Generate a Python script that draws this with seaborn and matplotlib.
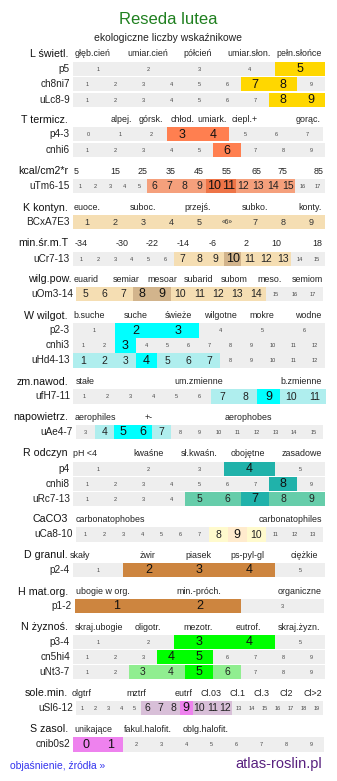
import matplotlib
matplotlib.use("Agg")
import matplotlib.pyplot as plt
import seaborn as sns

# ---- data -------------------------------------------------------------
GRAY = "#eeeeee"

panel_labels = ["L świetl.", "T termicz.", "kcal/cm2*r", "K kontyn.", "min.śr.m.T",
                "wilg.pow.", "W wilgot.", "zm.nawod.", "napowietrz.", "R odczyn",
                "CaCO3", "D granul.", "H mat.org.", "N żyznoś.", "sole.min.", "S zasol."]

panel_headers = [
    ["głęb.cień", "umiar.cień", "półcień", "umiar.słon.", "pełn.słońce"],
    ["alpej.", "górsk.", "chłod.", "umiark.", "ciepl.+", "gorąc."],
    ["5", "15", "25", "35", "45", "55", "65", "75", "85"],
    ["euoce.", "suboc.", "przejś.", "subko.", "konty."],
    ["-34", "-30", "-22", "-14", "-6", "2", "10", "18"],
    ["euarid", "semiar", "mesoar", "subarid", "subom", "meso.", "semiom"],
    ["b.suche", "suche", "świeże", "wilgotne", "mokre", "wodne"],
    ["stałe", "um.zmienne", "b.zmienne"],
    ["aerophiles", "+-", "aerophobes"],
    ["pH <4", "kwaśne", "sł.kwaśn.", "obojętne", "zasadowe"],
    ["carbonatophobes", "carbonatophiles"],
    ["skały", "żwir", "piasek", "ps-pyl-gl", "ciężkie"],
    ["ubogie w org.", "min.-próch.", "organiczne"],
    ["skraj.ubogie", "oligotr.", "mezotr.", "eutrof.", "skraj.żyzn."],
    ["olgtrf", "mztrf", "eutrf", "Cl.03", "Cl.1", "Cl.3", "Cl2", "Cl>2"],
    ["unikające", "fakul.halofit.", "oblg.halofit."],
]

# rows: label, first value, number of cells
row_labels = ["p5", "ch8ni7", "uLc8-9", "p4-3", "cnhi6", "uTm6-15", "BCxA7E3", "uCr7-13",
              "uOm3-14", "p2-3", "cnhi3", "uHd4-13", "ufH7-11", "uAe4-7", "p4", "cnhi8",
              "uRc7-13", "uCa8-10", "p2-4", "p1-2", "p3-4", "cn5hi4", "uNt3-7", "uSl6-12",
              "cnib0s2"]
row_first = [1, 1, 1, 0, 1, 1, 1, 1, 5, 1, 1, 1, 1, 3, 1, 1, 1, 1, 1, 1, 1, 1, 1, 1, 0]
row_count = [5, 9, 9, 8, 9, 17, 9, 15, 13, 6, 12, 12, 11, 13, 5, 9, 9, 13, 5, 3, 5, 9, 9, 19, 10]

# highlighted cells: value -> (colour, level); level 2 = main, 1 = side
row_marks = [
    {5: ("gold", 2)},
    {7: ("gold", 2), 8: ("gold", 2)},
    {8: ("gold", 2), 9: ("gold", 2)},
    {3: ("coral", 2), 4: ("coral", 2)},
    {6: ("coral", 2)},
    {**{v: ("#f5a07c", 1) for v in [6, 7, 8, 9, 12, 13, 14, 15]},
     10: ("#ee7447", 2), 11: ("#ee7447", 2)},
    {v: ("wheat", 0) for v in range(1, 10)},
    {**{v: ("wheat", 1) for v in [7, 8, 9, 11, 12, 13]}, 10: ("tan", 2)},
    {**{v: ("wheat", 1) for v in [5, 6, 7, 10, 11, 12, 13, 14]},
     8: ("tan", 2), 9: ("tan", 2)},
    {2: ("cyan", 2), 3: ("cyan", 2)},
    {3: ("cyan", 2)},
    {**{v: ("paleturquoise", 1) for v in [1, 2, 3, 5, 6, 7]}, 4: ("cyan", 2)},
    {**{v: ("paleturquoise", 1) for v in [7, 8, 10, 11]}, 9: ("cyan", 2)},
    {4: ("paleturquoise", 1), 5: ("cyan", 2), 6: ("cyan", 2), 7: ("paleturquoise", 1)},
    {4: ("lightseagreen", 2)},
    {8: ("lightseagreen", 2)},
    {**{v: ("mediumaquamarine", 1) for v in [5, 6, 8, 9]}, 7: ("lightseagreen", 2)},
    {8: ("lemonchiffon", 1), 9: ("blanchedalmond", 2), 10: ("lemonchiffon", 1)},
    {2: ("peru", 2), 3: ("peru", 2), 4: ("peru", 2)},
    {1: ("peru", 2), 2: ("peru", 2)},
    {3: ("lime", 2), 4: ("lime", 2)},
    {4: ("lime", 2), 5: ("lime", 2)},
    {3: ("lightgreen", 1), 4: ("lightgreen", 1), 5: ("lime", 2), 6: ("lightgreen", 1)},
    {**{v: ("thistle", 1) for v in [6, 7, 8, 10, 11, 12]}, 9: ("violet", 2)},
    {0: ("violet", 2), 1: ("violet", 2)},
]
cell_text = {"BCxA7E3": {6: "«6»"}}

# ---- layout (pixels) --------------------------------------------------
panel_y = [54, 120, 171, 207.7, 243, 279.3, 315.7, 381.7, 417.3, 453.3,
           519.3, 555, 591.7, 627.3, 693.3, 729.3]
panel_lx = [68, 68, 68, 68, 68, 72, 68, 68, 68, 68, 68, 68, 68, 68, 68, 68]
header_x = [
    [93, 148, 198, 249, 299],
    [121, 151, 183, 212, 245, 308],
    [76, 115, 143, 171, 199, 227, 256, 283, 319],
    [87, 143, 198, 255, 310],
    [81, 122, 152, 183, 213, 246, 276, 317],
    [86, 126, 162, 199, 234, 270, 307],
    [89, 136, 178, 220, 262, 308],
    [85, 199, 301],
    [95, 149, 248],
    [85, 149, 199, 248, 302],
    [110, 290],
    [80, 148, 198, 247, 304],
    [103, 199, 300],
    [99, 148, 198, 248, 299],
    [82, 136, 184, 211, 237, 262, 286, 313],
    [93, 148, 206],
]
row_top = [62, 77.3, 92.6, 127.3, 143.3, 179, 215, 251.7, 286.7, 323.3, 338.3, 353.3,
           389.3, 425, 461.7, 477, 492, 527.3, 562.7, 599, 635, 650, 665, 700.7, 737.3]
row_x = {"uOm3-14": (76, 322.7), "uAe4-7": (76, 322.7), "uCa8-10": (76, 322.7),
         "uSl6-12": (76, 322.7), "p4-3": (73, 323), "ufH7-11": (73, 326),
         "p1-2": (75, 324), "cnib0s2": (73, 324)}
ROW_H = 14.2

sns.set_theme(style="white")
plt.rcParams["font.family"] = ["Liberation Sans", "DejaVu Sans"]

fig = plt.figure(figsize=(3.37, 7.81), dpi=100)
ax = fig.add_axes([0, 0, 1, 1])
ax.set_xlim(0, 337)
ax.set_ylim(781, 0)
ax.axis("off")

ax.text(168, 20, "Reseda lutea", ha="center", va="center", fontsize=12, color="#208020")
ax.text(168, 38, "ekologiczne liczby wskaźnikowe", ha="center", va="center",
        fontsize=7.5, color="#222222")

for lab, y, lx, heads, hx in zip(panel_labels, panel_y, panel_lx, panel_headers, header_x):
    ax.text(lx, y, lab, ha="right", va="center", fontsize=7.7, color="#111111")
    for h, x in zip(heads, hx):
        ax.text(x, y, h, ha="center", va="center", fontsize=6.4, color="#222222")

for lab, first, n, marks, top in zip(row_labels, row_first, row_count, row_marks, row_top):
    x0, x1 = row_x.get(lab, (73, 325))
    w = (x1 - x0) / n
    vals = list(range(first, first + n))
    lefts = [x0 + i * w for i in range(n)]
    cols = [marks[v][0] if v in marks else GRAY for v in vals]
    yc = top + ROW_H / 2
    ax.barh([yc] * n, [w] * n, left=lefts, height=ROW_H, color=cols, linewidth=0)
    ax.text(x0 - 3, yc, lab, ha="right", va="center", fontsize=7.2, color="#222222")
    for v, l in zip(vals, lefts):
        txt = cell_text.get(lab, {}).get(v, str(v))
        lvl = marks[v][1] if v in marks else -1
        if lvl == 2:
            fs, c = 9, "#111111"
        elif lvl == 1:
            fs, c = 7.5, "#222222"
        elif lvl == 0:
            fs, c = (6.5 if len(txt) < 3 else 4.8), "#333333"
        else:
            fs, c = 4, "#444444"
        ax.text(l + w / 2, yc + 0.3, txt, ha="center", va="center", fontsize=fs, color=c)

ax.text(10, 766, "objaśnienie, źródła »", ha="left", va="center", fontsize=7.5, color="#3333ee")
ax.text(322, 764, "atlas-roslin.pl", ha="right", va="center", fontsize=10.5, color="#58207f")

fig.savefig("out.png", dpi=100)
